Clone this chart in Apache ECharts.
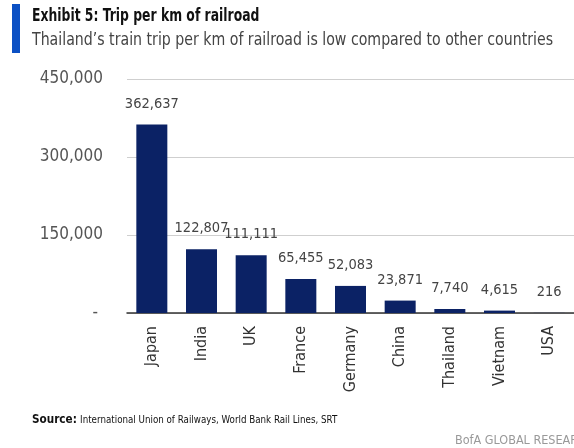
<!DOCTYPE html>
<html>
<head>
<meta charset="utf-8">
<script src="https://cdn.jsdelivr.net/npm/echarts@6/dist/echarts.min.js"></script>
<style>html,body{margin:0;padding:0;background:#fff;}#c{width:574px;height:448px;}</style>
</head>
<body>
<div id="c"></div>
<script>
var categories = ["Japan", "India", "UK", "France", "Germany", "China", "Thailand", "Vietnam", "USA"];
var values = [362637, 122807, 111111, 65455, 52083, 23871, 7740, 4615, 216];
var yTicks = [0, 150000, 300000, 450000];

var NARROW = '"Liberation Sans Narrow", "DejaVu Sans Condensed", "Roboto", sans-serif';
var chart = echarts.init(document.getElementById('c'), null, {renderer: 'canvas'});
function fmt(v) { return v === 0 ? '- ' : v.toLocaleString('en-US'); }
chart.setOption({
  animation: false,
  backgroundColor: '#fff',
  grid: {left: 127, top: 79, width: 450, height: 234, containLabel: false},
  graphic: [
    {type: 'rect', shape: {x: 12, y: 4, width: 8, height: 49}, style: {fill: '#0b50c4'}},
    {type: 'text', x: 32, y: 8, scaleX: 0.81, style: {text: 'Exhibit 5: Trip per km of railroad', font: 'bold 17px ' + NARROW, fill: '#111'}},
    {type: 'text', x: 32, y: 32, scaleX: 0.925, style: {text: 'Thailand\u2019s train trip per km of railroad is low compared to other countries', font: '17px ' + NARROW, fill: '#444'}},
    {type: 'text', x: 32, y: 414, scaleX: 0.97, style: {
      text: '{b|Source:} {n|International Union of Railways, World Bank Rail Lines, SRT}',
      rich: {b: {font: 'bold 12px ' + NARROW, fill: '#111'}, n: {font: '10px ' + NARROW, fill: '#111'}}
    }},
    {type: 'text', x: 455, y: 434, style: {text: 'BofA GLOBAL RESEARCH', font: '12.5px ' + NARROW, fill: '#999'}}
  ],
  xAxis: {
    type: 'category',
    data: categories,
    axisLine: {lineStyle: {color: '#333', width: 1.5}},
    axisTick: {show: false},
    axisLabel: {rotate: 90, color: '#333', fontSize: 16, fontFamily: NARROW, margin: 13, interval: 0}
  },
  yAxis: {
    type: 'value',
    min: 0, max: 450000, interval: 150000,
    axisLine: {show: false},
    axisTick: {show: false},
    splitLine: {lineStyle: {color: '#cfcfcf', width: 1}},
    axisLabel: {color: '#555', fontSize: 17, fontFamily: NARROW, margin: 24,
      formatter: function (v) { return yTicks.indexOf(v) >= 0 ? fmt(v) : ''; }}
  },
  series: [{
    type: 'bar',
    data: values,
    barWidth: 31,
    itemStyle: {color: '#0b2265'},
    label: {show: true, position: 'top', distance: 13, color: '#444', fontSize: 14.5, fontFamily: NARROW,
      formatter: function (p) { return p.value.toLocaleString('en-US'); }}
  }]
});
</script>
</body>
</html>
